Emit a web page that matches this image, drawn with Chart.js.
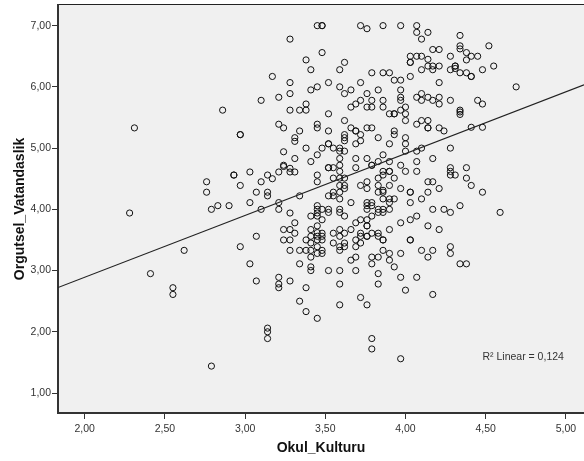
<!DOCTYPE html>
<html>
<head>
<meta charset="utf-8">
<title>Okul_Kulturu / Orgutsel_Vatandaslik</title>
<script src="https://cdn.jsdelivr.net/npm/chart.js@4/dist/chart.umd.min.js"></script>
<style>
  html, body { margin: 0; padding: 0; background: #fff; overflow: hidden; }
  canvas { display: block; }
</style>
</head>
<body>
<canvas id="scatter" width="584" height="461"></canvas>
<script>
const xTicks = [2, 2.5, 3, 3.5, 4, 4.5, 5];
const yTicks = [1, 2, 3, 4, 5, 6, 7];

const okulKulturu = [
  2.28,2.31,2.41,2.55,2.55,2.62,2.76,2.76,2.79,2.79,
  2.83,2.86,2.90,2.93,2.93,2.97,2.97,2.97,2.97,3.03,
  3.03,3.03,3.07,3.07,3.07,3.10,3.10,3.10,3.14,3.14,
  3.14,3.14,3.14,3.14,3.17,3.17,3.21,3.21,3.21,3.21,
  3.21,3.21,3.21,3.21,3.24,3.24,3.24,3.24,3.24,3.24,
  3.28,3.28,3.28,3.28,3.28,3.28,3.28,3.28,3.28,3.28,
  3.28,3.31,3.31,3.31,3.31,3.31,3.31,3.34,3.34,3.34,
  3.34,3.34,3.34,3.38,3.38,3.38,3.38,3.38,3.38,3.38,
  3.38,3.41,3.41,3.41,3.41,3.41,3.41,3.41,3.41,3.41,
  3.41,3.41,3.45,3.45,3.45,3.45,3.45,3.45,3.45,3.45,
  3.45,3.45,3.45,3.45,3.45,3.45,3.45,3.45,3.45,3.45,
  3.48,3.48,3.48,3.48,3.48,3.48,3.48,3.48,3.48,3.48,
  3.48,3.52,3.52,3.52,3.52,3.52,3.52,3.52,3.52,3.52,
  3.52,3.52,3.55,3.55,3.55,3.55,3.55,3.55,3.55,3.59,
  3.59,3.59,3.59,3.59,3.59,3.59,3.59,3.59,3.59,3.59,
  3.59,3.59,3.59,3.59,3.59,3.59,3.59,3.59,3.59,3.62,
  3.62,3.62,3.62,3.62,3.62,3.62,3.62,3.62,3.62,3.62,
  3.62,3.62,3.62,3.66,3.66,3.66,3.66,3.66,3.66,3.69,
  3.69,3.69,3.69,3.69,3.69,3.69,3.69,3.69,3.69,3.69,
  3.72,3.72,3.72,3.72,3.72,3.72,3.72,3.72,3.72,3.72,
  3.72,3.76,3.76,3.76,3.76,3.76,3.76,3.76,3.76,3.76,
  3.76,3.76,3.76,3.76,3.76,3.76,3.76,3.79,3.79,3.79,
  3.79,3.79,3.79,3.79,3.79,3.79,3.79,3.79,3.79,3.79,
  3.79,3.83,3.83,3.83,3.83,3.83,3.83,3.83,3.83,3.83,
  3.83,3.83,3.83,3.83,3.86,3.86,3.86,3.86,3.86,3.86,
  3.86,3.86,3.86,3.86,3.86,3.86,3.86,3.86,3.86,3.90,
  3.90,3.90,3.90,3.90,3.90,3.90,3.90,3.90,3.90,3.90,
  3.90,3.90,3.93,3.93,3.93,3.93,3.93,3.93,3.93,3.93,
  3.97,3.97,3.97,3.97,3.97,3.97,3.97,3.97,3.97,3.97,
  3.97,3.97,4.00,4.00,4.00,4.00,4.00,4.00,4.00,4.00,
  4.03,4.03,4.03,4.03,4.03,4.03,4.03,4.03,4.03,4.03,
  4.07,4.07,4.07,4.07,4.07,4.07,4.07,4.07,4.07,4.07,
  4.10,4.10,4.10,4.10,4.10,4.10,4.10,4.10,4.10,4.14,
  4.14,4.14,4.14,4.14,4.14,4.14,4.14,4.14,4.14,4.14,
  4.17,4.17,4.17,4.17,4.17,4.17,4.17,4.17,4.17,4.21,
  4.21,4.21,4.21,4.21,4.21,4.21,4.21,4.24,4.24,4.28,
  4.28,4.28,4.28,4.28,4.28,4.28,4.28,4.28,4.28,4.31,
  4.31,4.31,4.31,4.34,4.34,4.34,4.34,4.34,4.34,4.34,
  4.34,4.34,4.38,4.38,4.38,4.38,4.38,4.38,4.41,4.41,
  4.41,4.41,4.41,4.45,4.45,4.48,4.48,4.48,4.48,4.52,
  4.55,4.59,4.69
];
const orgutselVatandaslik = [
  3.94,5.33,2.95,2.72,2.61,3.33,4.45,4.28,4.00,1.44,
  4.06,5.62,4.06,4.56,4.56,5.22,5.22,4.39,3.39,4.61,
  4.11,3.11,4.28,3.56,2.83,5.78,4.45,4.00,4.56,4.28,
  4.22,2.06,2.00,1.89,6.17,4.50,5.83,5.39,4.61,4.11,
  4.00,2.89,2.78,2.72,5.33,4.94,4.72,4.70,3.67,3.50,
  6.78,6.07,5.89,5.62,4.67,4.61,3.94,3.67,3.50,3.33,
  2.83,5.17,5.11,4.83,4.61,3.78,3.61,5.62,5.28,4.22,
  3.33,3.11,2.50,6.44,5.72,5.62,5.00,3.50,3.33,2.72,
  2.33,6.28,5.95,4.78,3.89,3.67,3.56,3.45,3.33,3.22,
  3.06,3.00,7.00,6.00,5.39,5.33,4.89,4.56,4.45,4.06,
  4.00,3.94,3.89,3.73,3.62,3.56,3.50,3.39,3.28,2.22,
  7.00,7.00,6.56,5.00,4.00,3.83,3.61,3.56,3.50,3.33,
  3.28,6.07,5.56,5.28,5.07,5.07,4.68,4.68,4.22,4.00,
  3.95,3.00,5.00,4.68,4.51,4.28,4.22,3.61,3.45,6.28,
  6.00,5.00,4.95,4.83,4.72,4.62,4.51,4.39,4.28,4.17,
  4.00,3.95,3.67,3.56,3.39,3.33,3.00,2.78,2.44,6.40,
  5.89,5.45,5.22,5.17,5.12,4.95,4.51,4.39,4.34,3.89,
  3.61,3.45,3.39,5.95,5.67,5.33,4.11,3.67,3.17,5.72,
  5.28,5.28,5.07,4.83,4.68,3.78,3.50,3.39,3.22,3.00,
  7.00,6.07,5.78,5.22,5.12,4.39,3.83,3.61,3.56,3.45,
  2.56,6.95,5.89,5.67,5.33,4.83,4.45,4.34,4.11,4.06,
  4.00,3.83,3.73,3.73,3.56,3.56,2.44,6.23,5.78,5.67,
  5.33,4.72,4.72,4.11,4.06,3.89,3.61,3.22,3.11,1.89,
  1.72,5.95,5.17,4.78,4.51,4.39,4.28,4.00,3.95,3.61,
  3.56,3.22,2.95,2.78,7.00,6.23,5.78,5.67,4.89,4.62,
  4.56,4.31,4.28,4.17,4.00,3.95,3.50,3.50,3.33,6.23,
  5.56,5.07,4.78,4.62,4.62,4.39,4.17,4.11,4.00,3.67,
  3.28,3.17,6.11,5.56,5.56,5.28,5.22,4.51,4.17,3.06,
  7.00,6.11,5.95,5.83,5.78,5.62,4.72,4.34,3.78,3.28,
  2.89,1.56,5.67,5.56,5.45,5.17,5.07,4.95,4.62,2.68,
  6.50,6.40,6.40,6.17,4.28,4.28,4.11,3.83,3.50,3.50,
  7.00,6.89,6.50,5.83,5.39,4.95,4.78,4.62,3.89,2.89,
  6.78,6.50,6.28,5.89,5.78,5.45,5.00,4.17,3.33,6.89,
  6.45,6.34,5.83,5.45,5.33,5.33,4.45,4.28,3.73,3.22,
  6.61,6.34,6.28,5.78,4.83,4.45,4.00,3.33,2.61,6.61,
  6.34,6.07,5.83,5.72,5.33,4.34,3.67,5.28,4.00,6.50,
  6.28,5.78,5.00,4.68,4.62,4.56,3.95,3.39,3.28,6.34,
  6.34,6.30,4.56,6.84,6.67,6.62,6.23,5.62,5.59,5.55,
  4.06,3.11,6.56,6.44,6.23,4.68,4.51,3.11,6.50,6.17,
  6.17,5.34,4.39,6.50,5.78,6.28,5.72,5.34,4.28,6.67,
  6.34,3.95,6.00
];
// fit line as SPSS draws it, read at the two plot edges
const fitX = [1.8335, 5.113];
const fitY = [2.723, 6.033];

const points = okulKulturu.map((x, i) => ({ x: x, y: orgutselVatandaslik[i] }));
const fitLine = fitX.map((x, i) => ({ x: x, y: fitY[i] }));

const plotFrame = {
  id: 'plotFrame',
  beforeDraw(chart) {
    const { ctx, chartArea: a } = chart;
    ctx.save();
    ctx.fillStyle = '#f0f0f0';
    ctx.fillRect(a.left, a.top, a.right - a.left, a.bottom - a.top);
    ctx.strokeStyle = '#222';
    ctx.lineWidth = 1;
    ctx.beginPath();
    ctx.moveTo(a.left, a.top - 0.5);
    ctx.lineTo(a.right, a.top - 0.5);
    ctx.stroke();
    ctx.restore();
  },
  afterDraw(chart) {
    const { ctx, scales } = chart;
    ctx.save();
    ctx.fillStyle = '#333';
    ctx.font = '10.5px "Liberation Sans", Arial, sans-serif';
    ctx.textBaseline = 'middle';
    ctx.fillText('R\u00B2 Linear = 0,124', scales.x.getPixelForValue(4.48), scales.y.getPixelForValue(1.587));
    ctx.restore();
  }
};

Chart.defaults.font.family = '"Liberation Sans", Arial, sans-serif';

new Chart(document.getElementById('scatter'), {
  type: 'scatter',
  data: {
    datasets: [
      {
        label: 'Fit',
        data: fitLine,
        showLine: true,
        borderColor: '#222',
        borderWidth: 1.2,
        pointRadius: 0,
        order: 1
      },
      {
        label: 'Orgutsel_Vatandaslik',
        data: points,
        backgroundColor: 'transparent',
        borderColor: '#111',
        borderWidth: 1,
        pointRadius: 3.1,
        order: 2
      }
    ]
  },
  options: {
    responsive: false,
    animation: false,
    // autoPadding off so the plot reaches the right edge like the original
    layout: { autoPadding: false, padding: { top: 5, right: 0, bottom: 0, left: 0 } },
    plugins: { legend: { display: false }, tooltip: { enabled: false } },
    scales: {
      x: {
        min: 1.8335,
        max: 5.113,
        afterBuildTicks: s => { s.ticks = xTicks.map(v => ({ value: v })); },
        afterFit: s => { s.height = 48; s.paddingLeft = 0; s.paddingRight = 0; },
        grid: { drawOnChartArea: false, tickLength: 6, tickColor: '#333' },
        border: { color: '#333', width: 2 },
        ticks: {
          color: '#333',
          font: { size: 10.5 },
          maxRotation: 0,
          padding: 4,
          callback: v => v.toFixed(2).replace('.', ',')
        },
        title: {
          display: true,
          text: 'Okul_Kulturu',
          color: '#111',
          font: { size: 14, weight: 'bold' },
          padding: { top: 2, bottom: 4 }
        }
      },
      y: {
        min: 0.674,
        max: 7.337,
        afterBuildTicks: s => { s.ticks = yTicks.map(v => ({ value: v })); },
        afterFit: s => { s.width = 58; s.paddingTop = 0; s.paddingBottom = 0; },
        grid: { drawOnChartArea: false, tickLength: 6, tickColor: '#333' },
        border: { color: '#333', width: 2 },
        ticks: {
          color: '#333',
          font: { size: 10.5 },
          padding: 1,
          callback: v => v.toFixed(2).replace('.', ',')
        },
        title: {
          display: true,
          text: 'Orgutsel_Vatandaslik',
          color: '#111',
          font: { size: 14, weight: 'bold' },
          padding: { top: 12, bottom: 0 }
        }
      }
    }
  },
  plugins: [plotFrame]
});
</script>
</body>
</html>
